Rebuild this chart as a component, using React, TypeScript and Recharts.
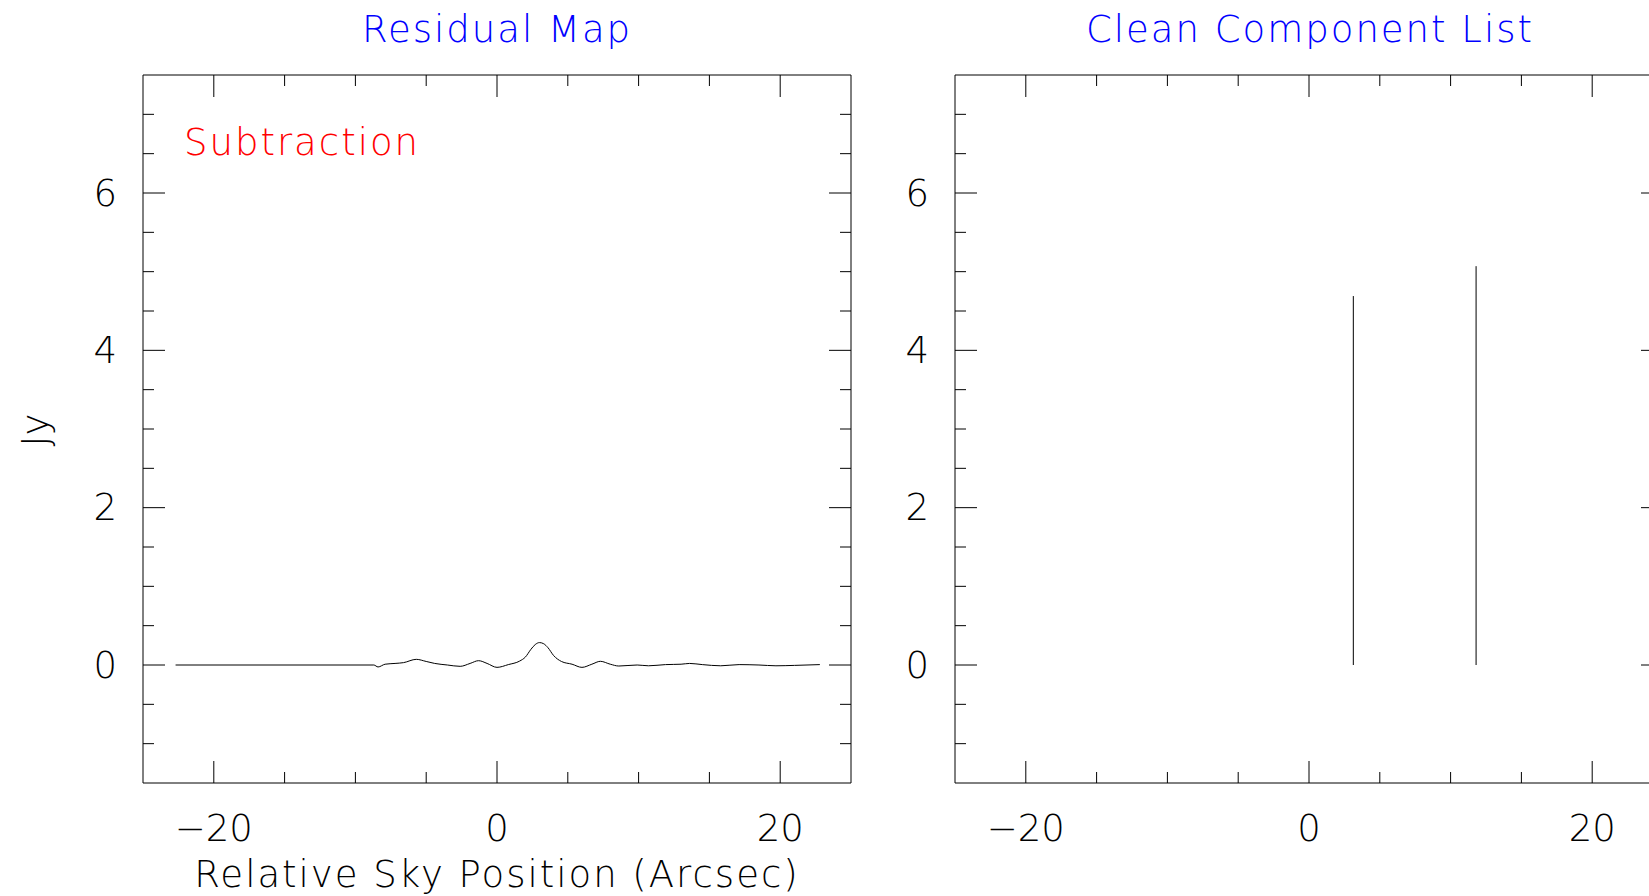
import { ComposedChart, Line, XAxis, YAxis } from 'recharts';

// residual profile (Jy) along the slice
const resX = [-22.7, -8.7, -8.4, -7.9, -7.2, -6.6, -5.7, -5.0, -4.4, -3.5, -2.6, -1.9, -1.3, -0.7, 0.0, 0.8, 1.6, 2.0, 2.4, 2.7, 3.0, 3.3, 3.6, 4.0, 4.55, 5.3, 6.0, 6.7, 7.3, 8.0, 8.6, 9.9, 10.7, 11.9, 13.0, 13.6, 14.5, 15.8, 17.1, 18.5, 19.7, 21.0, 22.8];
const resY = [0, 0, -0.025, 0.01, 0.02, 0.03, 0.072, 0.045, 0.02, 0.0, -0.017, 0.02, 0.055, 0.02, -0.03, 0.005, 0.05, 0.1, 0.2, 0.26, 0.285, 0.27, 0.22, 0.12, 0.045, 0.01, -0.03, 0.01, 0.047, 0.01, -0.013, 0.0, -0.01, 0.005, 0.01, 0.02, 0.005, -0.01, 0.005, 0.0, -0.01, -0.005, 0.005];

// clean components: position (arcsec) and flux (Jy)
const compPos = [3.13, 11.8];
const compFlux = [4.69, 5.07];

const xTicks = [-20, -15, -10, -5, 0, 5, 10, 15, 20];
const yTicks = [-1, -0.5, 0, 0.5, 1, 1.5, 2, 2.5, 3, 3.5, 4, 4.5, 5, 5.5, 6, 6.5, 7];

const residual = resX.map((x, i) => ({ x, y: resY[i] }));

const FONT = "'DejaVu Sans', sans-serif";
const MAJOR = 22;
const MINOR = 11;

const fmt = (v: number) => (v < 0 ? '\u2212' + Math.abs(v) : String(v));

const BottomTick = ({ x, y, payload }: any) => {
  const major = payload.value % 20 === 0;
  return (
    <g>
      <line x1={x} x2={x} y1={y} y2={y - (major ? MAJOR : MINOR)} stroke="#000" />
      {major && (
        <text x={x} y={y + 45} textAnchor="middle" dominantBaseline="central" fontFamily={FONT} fontWeight={200} fontSize={37} fill="#000">
          {fmt(payload.value)}
        </text>
      )}
    </g>
  );
};

const TopTick = ({ x, y, payload }: any) => {
  const major = payload.value % 20 === 0;
  return <line x1={x} x2={x} y1={y} y2={y + (major ? MAJOR : MINOR)} stroke="#000" />;
};

const LeftTick = ({ x, y, payload }: any) => {
  const major = payload.value % 2 === 0;
  return (
    <g>
      <line x1={x} x2={x + (major ? MAJOR : MINOR)} y1={y} y2={y} stroke="#000" />
      {major && (
        <text x={x - 26} y={y} textAnchor="end" dominantBaseline="central" fontFamily={FONT} fontWeight={200} fontSize={37} fill="#000">
          {fmt(payload.value)}
        </text>
      )}
    </g>
  );
};

const RightTick = ({ x, y, payload }: any) => {
  const major = payload.value % 2 === 0;
  return <line x1={x} x2={x - (major ? MAJOR : MINOR)} y1={y} y2={y} stroke="#000" />;
};

const axes = () => [
  <XAxis key="xb" xAxisId="b" dataKey="x" type="number" domain={[-25, 25]} ticks={xTicks} interval={0} allowDataOverflow height={1} tickSize={0} tickMargin={0} tickLine={false} tick={<BottomTick />} axisLine={{ stroke: '#000' }} />,
  <XAxis key="xt" xAxisId="t" orientation="top" dataKey="x" type="number" domain={[-25, 25]} ticks={xTicks} interval={0} allowDataOverflow height={1} tickSize={0} tickMargin={0} tickLine={false} tick={<TopTick />} axisLine={{ stroke: '#000' }} />,
  <YAxis key="yl" yAxisId="l" type="number" domain={[-1.5, 7.5]} ticks={yTicks} interval={0} allowDataOverflow width={1} tickSize={0} tickMargin={0} tickLine={false} tick={<LeftTick />} axisLine={{ stroke: '#000' }} />,
  <YAxis key="yr" yAxisId="r" orientation="right" type="number" domain={[-1.5, 7.5]} ticks={yTicks} interval={0} allowDataOverflow width={1} tickSize={0} tickMargin={0} tickLine={false} tick={<RightTick />} axisLine={{ stroke: '#000' }} />,
];

const txt = (extra: React.CSSProperties): React.CSSProperties => ({
  position: 'absolute',
  transform: 'translate(-50%, -50%)',
  fontFamily: FONT,
  fontWeight: 200,
  whiteSpace: 'nowrap',
  lineHeight: 1,
  ...extra,
});

export default function App() {
  return (
    <div style={{ position: 'fixed', left: 0, top: 0, width: 1649, height: 896, overflow: 'hidden', background: '#fff' }}>
      <div style={{ position: 'absolute', left: 0, top: 0 }}>
        <ComposedChart width={900} height={896} data={residual} margin={{ left: 142, right: 48, top: 74, bottom: 112 }}>
          {axes()}
          <Line xAxisId="b" yAxisId="l" dataKey="y" type="monotone" stroke="#000" strokeWidth={1} dot={false} isAnimationActive={false} />
          <Line xAxisId="t" yAxisId="r" dataKey="y" stroke="none" dot={false} legendType="none" isAnimationActive={false} />
        </ComposedChart>
      </div>
      <div style={{ position: 'absolute', left: 800, top: 0 }}>
        <ComposedChart width={900} height={896} margin={{ left: 154, right: 36, top: 74, bottom: 112 }}>
          {axes()}
          {compPos.map((p, i) => (
            <Line
              key={p}
              xAxisId="b"
              yAxisId="l"
              data={[{ x: p, y: 0 }, { x: p, y: compFlux[i] }]}
              dataKey="y"
              type="linear"
              stroke="#000"
              strokeWidth={1}
              dot={false}
              isAnimationActive={false}
            />
          ))}
          <Line xAxisId="t" yAxisId="r" data={[{ x: 0, y: 0 }]} dataKey="y" stroke="none" dot={false} legendType="none" isAnimationActive={false} />
        </ComposedChart>
      </div>
      <div style={txt({ left: 497, top: 29, fontSize: 37, color: '#0000ff', letterSpacing: 2 })}>Residual Map</div>
      <div style={txt({ left: 1310, top: 29, fontSize: 37, color: '#0000ff', letterSpacing: 2 })}>Clean Component List</div>
      <div style={txt({ left: 302, top: 142, fontSize: 37, color: '#ff0000', letterSpacing: 2 })}>Subtraction</div>
      <div style={txt({ left: 497, top: 874, fontSize: 37, color: '#000', letterSpacing: 2 })}>Relative Sky Position (Arcsec)</div>
      <div style={txt({ left: 35, top: 430, fontSize: 37, color: '#000', transform: 'translate(-50%, -50%) rotate(-90deg)' })}>Jy</div>
    </div>
  );
}
